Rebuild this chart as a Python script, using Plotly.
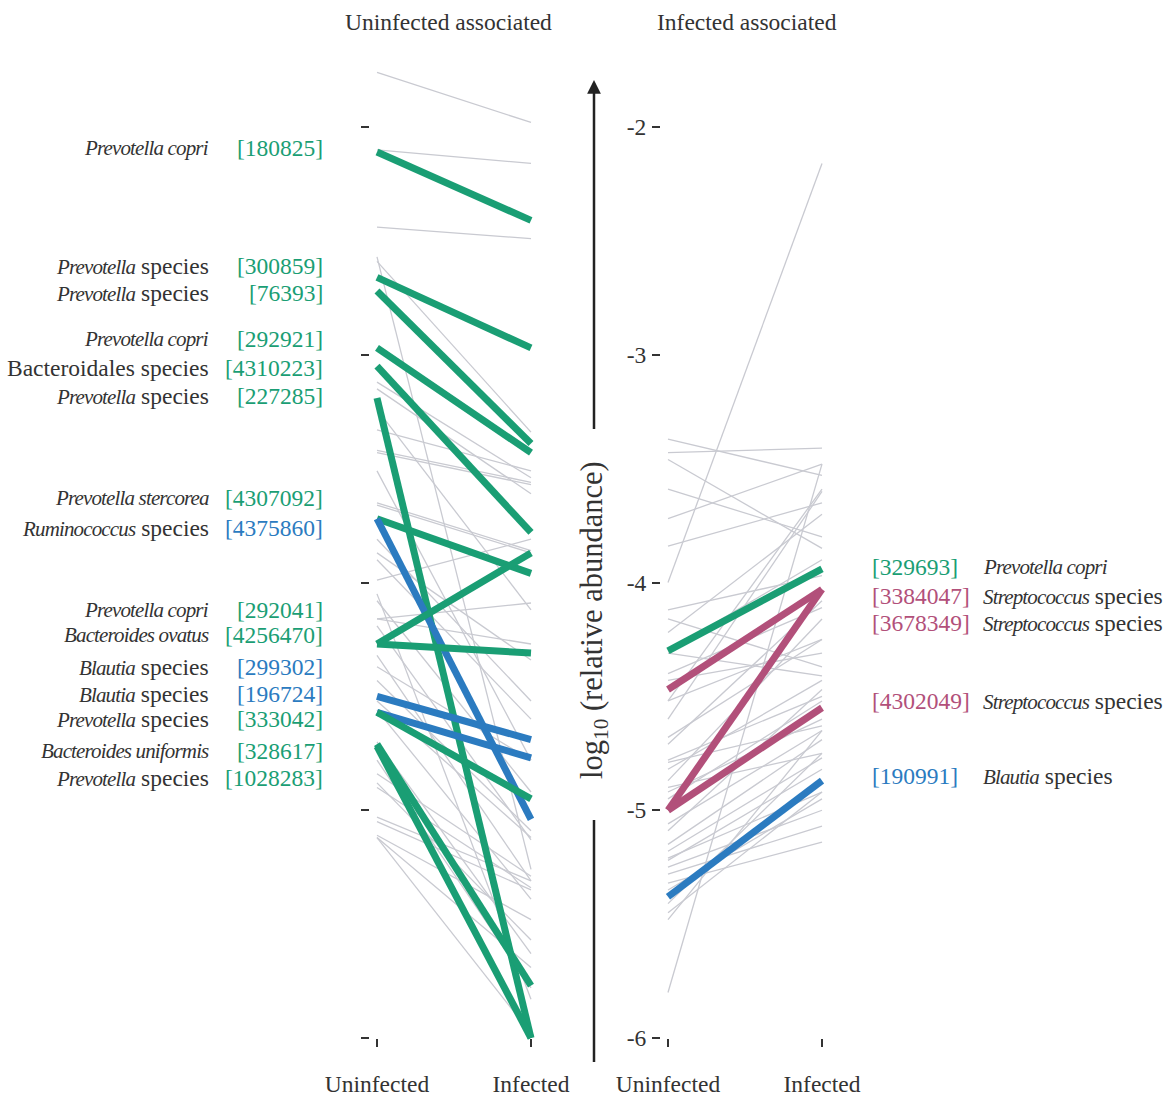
import plotly.graph_objects as go

# ---------------- data ----------------
conditions = ["Uninfected", "Infected"]
yticks = [-2, -3, -4, -5, -6]
ytick_text = ["-2", "-3", "-4", "-5", "-6"]

# Left panel: highlighted taxa (uninfected-associated)
left_ids = ["180825", "300859", "76393", "292921", "4310223", "227285", "4307092",
            "4375860", "292041", "4256470", "299302", "196724", "333042", "328617", "1028283"]
left_names = ["<i>Prevotella copri</i>", "<i>Prevotella</i> species", "<i>Prevotella</i> species",
              "<i>Prevotella copri</i>", "Bacteroidales species", "<i>Prevotella</i> species",
              "<i>Prevotella stercorea</i>", "<i>Ruminococcus</i> species", "<i>Prevotella copri</i>",
              "<i>Bacteroides ovatus</i>", "<i>Blautia</i> species", "<i>Blautia</i> species",
              "<i>Prevotella</i> species", "<i>Bacteroides uniformis</i>", "<i>Prevotella</i> species"]
left_group = ["Bacteroidetes", "Bacteroidetes", "Bacteroidetes", "Bacteroidetes", "Bacteroidetes",
              "Bacteroidetes", "Bacteroidetes", "Firmicutes", "Bacteroidetes", "Bacteroidetes",
              "Firmicutes", "Firmicutes", "Bacteroidetes", "Bacteroidetes", "Bacteroidetes"]
left_uninf = [-2.11, -2.66, -2.72, -2.97, -3.05, -3.19, -3.72, -3.72, -4.27, -4.27,
              -4.50, -4.57, -4.57, -4.71, -4.72]
left_inf = [-2.41, -2.97, -3.39, -3.43, -3.78, -6.00, -3.96, -5.04, -3.87, -4.31,
            -4.69, -4.77, -4.95, -5.77, -6.00]
left_label_y = [-2.09, -2.61, -2.73, -2.93, -3.06, -3.18, -3.63, -3.76, -4.12, -4.23,
                -4.37, -4.49, -4.60, -4.74, -4.86]

# Left panel: other taxa (grey)
left_grey_uninf = [-1.76, -2.10, -2.44, -2.57, -2.59, -3.12, -3.15, -3.42, -3.43, -3.65,
                   -3.66, -3.87, -3.90, -4.05, -4.16, -4.32, -4.37, -4.43, -4.70, -4.84,
                   -4.88, -4.90, -5.03, -5.05, -5.11, -5.12, -5.12, -4.08, -4.19, -4.52,
                   -4.56, -4.78, -3.99, -4.16, -3.33, -3.24, -3.51, -3.81]
left_grey_inf = [-1.98, -2.16, -2.49, -5.26, -3.34, -3.54, -3.61, -3.56, -3.57, -3.86,
                 -3.87, -4.34, -4.60, -5.83, -4.09, -5.31, -4.78, -5.09, -5.63, -5.29,
                 -5.57, -5.34, -5.31, -5.35, -5.48, -5.69, -5.98, -4.92, -5.13, -5.12,
                 -5.39, -5.78, -3.81, -4.27, -3.51, -4.12, -4.78, -4.52]

# Right panel: highlighted taxa (infected-associated)
right_ids = ["329693", "3384047", "3678349", "4302049", "190991"]
right_names = ["<i>Prevotella copri</i>", "<i>Streptococcus</i> species", "<i>Streptococcus</i> species",
               "<i>Streptococcus</i> species", "<i>Blautia</i> species"]
right_group = ["Bacteroidetes", "Streptococcus", "Streptococcus", "Streptococcus", "Firmicutes"]
right_uninf = [-4.30, -4.47, -5.00, -5.00, -5.38]
right_inf = [-3.94, -4.03, -4.03, -4.55, -4.87]
right_label_y = [-3.93, -4.06, -4.18, -4.52, -4.85]

# Right panel: other taxa (grey)
right_grey_uninf = [-3.37, -3.43, -3.46, -3.59, -3.72, -3.84, -4.00, -5.80, -4.16, -4.22,
                    -4.31, -4.40, -4.43, -4.68, -4.78, -4.79, -4.90, -4.92, -5.06, -5.18,
                    -5.21, -5.25, -5.28, -5.32, -5.41, -5.45, -5.48, -4.52, -4.60, -4.71,
                    -4.87, -4.95, -5.09, -5.15, -5.22, -5.35, -4.30, -4.12, -4.52, -4.82]
right_grey_inf = [-3.53, -3.41, -3.85, -3.80, -3.48, -3.65, -2.16, -3.48, -4.37, -3.70,
                  -4.41, -4.11, -4.31, -4.25, -4.50, -4.63, -4.75, -4.60, -4.65, -4.77,
                  -4.92, -5.00, -5.07, -5.14, -4.75, -4.92, -4.65, -3.59, -3.60, -4.08,
                  -4.16, -4.52, -4.47, -4.69, -4.82, -4.95, -3.90, -3.97, -4.25, -4.43]

# ---------------- style ----------------
W, H = 1164, 1098
FONT = "Liberation Serif"
FS = 23.5
TXT = "#333333"
GREY = "#c9cad1"
COLORS = {"Bacteroidetes": "#1a9e74", "Firmicutes": "#2b7bc0", "Streptococcus": "#b2507a"}
ITALIC_STYLE = "font-size:21px;letter-spacing:-0.85px"


def fmt(name):
    return name.replace("<i>", '<i><span style="%s">' % ITALIC_STYLE).replace("</i>", "</span></i>")


def px(xp):
    return xp / W


def py(yp):
    return 1 - yp / H


# y range mapping: -2 at 127px, -6 at 1038px
per_unit = (1038 - 127) / 4.0
y_top = -2 + 127 / per_unit
y_bot = -6 - (H - 1038) / per_unit

xpad = 17 / 154.0

fig = go.Figure()


def grey_trace(u, i, xa, ya):
    xs, ys = [], []
    for a, b in zip(u, i):
        xs += [0, 1, None]
        ys += [a, b, None]
    return go.Scatter(x=xs, y=ys, mode="lines", xaxis=xa, yaxis=ya,
                      line=dict(color=GREY, width=1.3), hoverinfo="skip", showlegend=False)


fig.add_trace(grey_trace(left_grey_uninf, left_grey_inf, "x", "y"))
fig.add_trace(grey_trace(right_grey_uninf, right_grey_inf, "x2", "y2"))

for u, i, g, tid in zip(left_uninf, left_inf, left_group, left_ids):
    fig.add_trace(go.Scatter(x=[0, 1], y=[u, i], mode="lines", xaxis="x", yaxis="y",
                             line=dict(color=COLORS[g], width=7), name=tid, showlegend=False))
for u, i, g, tid in zip(right_uninf, right_inf, right_group, right_ids):
    fig.add_trace(go.Scatter(x=[0, 1], y=[u, i], mode="lines", xaxis="x2", yaxis="y2",
                             line=dict(color=COLORS[g], width=7), name=tid, showlegend=False))

annotations = []
for name, tid, g, ly in zip(left_names, left_ids, left_group, left_label_y):
    annotations.append(dict(x=px(211), y=ly, xref="paper", yref="y", text=fmt(name), showarrow=False,
                            xanchor="right", yanchor="middle", font=dict(family=FONT, size=FS, color=TXT)))
    annotations.append(dict(x=px(325), y=ly, xref="paper", yref="y", text="[" + tid + "]", showarrow=False,
                            xanchor="right", yanchor="middle", font=dict(family=FONT, size=FS, color=COLORS[g])))
for name, tid, g, ly in zip(right_names, right_ids, right_group, right_label_y):
    annotations.append(dict(x=px(870), y=ly, xref="paper", yref="y2", text="[" + tid + "]", showarrow=False,
                            xanchor="left", yanchor="middle", font=dict(family=FONT, size=FS, color=COLORS[g])))
    annotations.append(dict(x=px(981), y=ly, xref="paper", yref="y2", text=fmt(name), showarrow=False,
                            xanchor="left", yanchor="middle", font=dict(family=FONT, size=FS, color=TXT)))

# panel titles
annotations.append(dict(x=px(448), y=py(22), xref="paper", yref="paper", text="Uninfected associated",
                        showarrow=False, xanchor="center", yanchor="middle",
                        font=dict(family=FONT, size=FS, color=TXT)))
annotations.append(dict(x=px(747), y=py(22), xref="paper", yref="paper", text="Infected associated",
                        showarrow=False, xanchor="center", yanchor="middle",
                        font=dict(family=FONT, size=FS, color=TXT)))
# y label with arrow
annotations.append(dict(x=px(594), y=py(620), xref="paper", yref="paper",
                        text="log<sub>10</sub> (relative abundance)", textangle=-90,
                        showarrow=False, xanchor="center", yanchor="middle",
                        font=dict(family=FONT, size=30.5, color=TXT)))
annotations.append(dict(x=px(594), y=py(80), xref="paper", yref="paper", text=" ",
                        showarrow=True, ax=0, ay=359, axref="pixel", ayref="pixel",
                        arrowhead=2, arrowsize=1.1, arrowwidth=2.5, arrowcolor="#222222"))

shapes = [dict(type="line", xref="paper", yref="paper", x0=px(594), x1=px(594), y0=py(820), y1=py(1062),
               line=dict(color="#222222", width=2.5))]

axis_common = dict(showgrid=False, zeroline=False, showline=False, ticks="outside",
                   ticklen=8, tickwidth=2, tickcolor=TXT, automargin=False,
                   tickfont=dict(family=FONT, size=FS, color=TXT))

fig.update_layout(
    width=W, height=H, margin=dict(l=0, r=0, t=0, b=0, pad=0, autoexpand=False),
    paper_bgcolor="white", plot_bgcolor="white",
    showlegend=False, annotations=annotations, shapes=shapes,
    xaxis=dict(domain=[px(360), px(548)], range=[-xpad, 1 + xpad], anchor="free", position=py(1038),
               tickvals=[0, 1], ticktext=conditions, ticklabelstandoff=17, **axis_common),
    xaxis2=dict(domain=[px(651), px(839)], range=[-xpad, 1 + xpad], anchor="free", position=py(1038),
                tickvals=[0, 1], ticktext=conditions, ticklabelstandoff=17, **axis_common),
    yaxis=dict(domain=[0, 1], range=[y_bot, y_top], anchor="free", position=px(369),
               tickvals=yticks, showticklabels=False, **axis_common),
    yaxis2=dict(domain=[0, 1], range=[y_bot, y_top], anchor="free", position=px(660),
                tickvals=yticks, ticktext=ytick_text, ticklabelstandoff=1, **axis_common),
)

fig.write_html("out.html", config={"displayModeBar": False},
               post_script="document.body.style.margin='0';document.body.style.overflow='hidden';")
